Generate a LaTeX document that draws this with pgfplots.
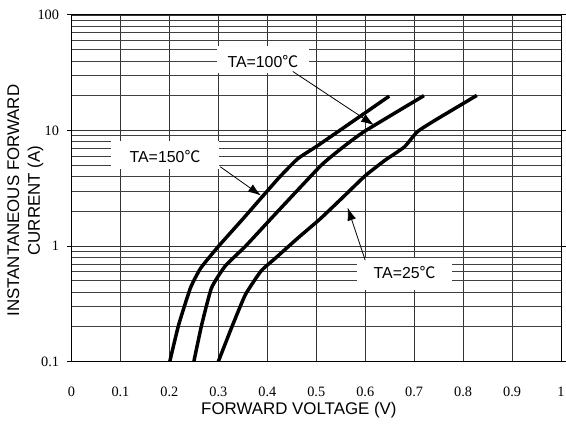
\documentclass[border=0pt]{standalone}
\usepackage{fontspec}
\usepackage{pgfplots}
\pgfplotsset{compat=1.18}
\usetikzlibrary{arrows.meta}
\setmainfont{Liberation Sans}
\newfontfamily\tickfont{Liberation Serif}
\newfontfamily\cjk{Noto Sans CJK SC}
\newcommand{\degc}{{\cjk ℃}}
\begin{document}
\begin{tikzpicture}
\begin{axis}[
  at={(0,0)}, anchor=south west,
  scale only axis, width=493pt, height=349pt,
  xmin=0, xmax=1, ymin=0.1, ymax=100, ymode=log,
  xtick={0,0.1,0.2,0.3,0.4,0.5,0.6,0.7,0.8,0.9,1},
  xticklabels={0,0.1,0.2,0.3,0.4,0.5,0.6,0.7,0.8,0.9,1},
  ytick={0.1,1,10,100}, yticklabels={0.1,1,10,100},
  /pgf/number format/assume math mode=true,
  tick label style={font=\tickfont\fontsize{14.4}{16}\selectfont},
  xticklabel style={yshift=-22pt},
  yticklabel style={xshift=-4pt},
  x tick style={draw=none},
  y tick style={black, line width=0.8pt},
  ytick align=outside, major tick length=5pt,
  minor tick length=0pt,
  xmajorgrids, ymajorgrids, yminorgrids,
  major grid style={black!80, line width=0.6pt},
  minor grid style={black!75, line width=0.6pt},
  axis line style={black, line width=1pt},
  xlabel={FORWARD VOLTAGE (V)},
  ylabel={INSTANTANEOUS FORWARD\\CURRENT (A)},
  xlabel style={font=\fontsize{17}{21}\selectfont, at={(rel axis cs:0.4645,-0.1404)}, anchor=center},
  ylabel style={font=\fontsize{17}{21}\selectfont, align=center, at={(rel axis cs:-0.0943,0.464)}, anchor=center, rotate=0},
  clip=true,
]
% white label boxes
\node[fill=white, minimum width=92pt, minimum height=28pt, inner sep=0pt] at (axis cs:0.391,41.1) {};
\node[fill=white, minimum width=108pt, minimum height=28pt, inner sep=0pt] at (axis cs:0.191,6.14) {};
\node[fill=white, minimum width=95pt, minimum height=32pt, inner sep=0pt] at (axis cs:0.6805,0.571) {};
\node[font=\fontsize{16}{18}\selectfont, inner sep=0pt] at (axis cs:0.391,39.5) {TA=100\degc};
\node[font=\fontsize{16}{18}\selectfont, inner sep=0pt] at (axis cs:0.191,5.9) {TA=150\degc};
\node[font=\fontsize{16}{18}\selectfont, inner sep=0pt] at (axis cs:0.6805,0.59) {TA=25\degc};
% TA=150
\addplot[black, line width=3.5pt, line join=round, smooth, tension=0.3] coordinates {
(0.2008,0.1) (0.219,0.208) (0.243,0.433) (0.264,0.643) (0.300,0.99)
(0.351,1.73) (0.422,3.82) (0.462,5.68) (0.499,7.2) (0.558,10.7) (0.649,19.8)};
% TA=100
\addplot[black, line width=3.5pt, line join=round, smooth, tension=0.3] coordinates {
(0.25,0.1) (0.266,0.208) (0.286,0.433) (0.314,0.67) (0.355,0.99)
(0.408,1.73) (0.509,4.94) (0.558,7.35) (0.600,9.9) (0.72,20)};
% TA=25
\addplot[black, line width=3.5pt, line join=round, smooth, tension=0.3] coordinates {
(0.300,0.1) (0.327,0.196) (0.355,0.377) (0.387,0.605) (0.416,0.78)
(0.462,1.166) (0.509,1.73) (0.558,2.73) (0.600,4.05) (0.639,5.46)
(0.680,7.2) (0.706,9.7) (0.740,12.05) (0.828,20.1)};
% arrows
\draw[black, line width=0.8pt, -{Latex[length=13pt,width=9pt]}] (axis cs:0.452,32.4) -- (axis cs:0.618,11.1);
\draw[black, line width=0.8pt, -{Latex[length=13pt,width=9pt]}] (axis cs:0.304,4.84) -- (axis cs:0.387,2.73);
\draw[black, line width=0.8pt, -{Latex[length=13pt,width=9pt]}] (axis cs:0.600,0.753) -- (axis cs:0.564,2.15);
\end{axis}
\pgfresetboundingbox
\path[use as bounding box] (-72pt,-62pt) rectangle (498pt,364pt);
\end{tikzpicture}
\end{document}
